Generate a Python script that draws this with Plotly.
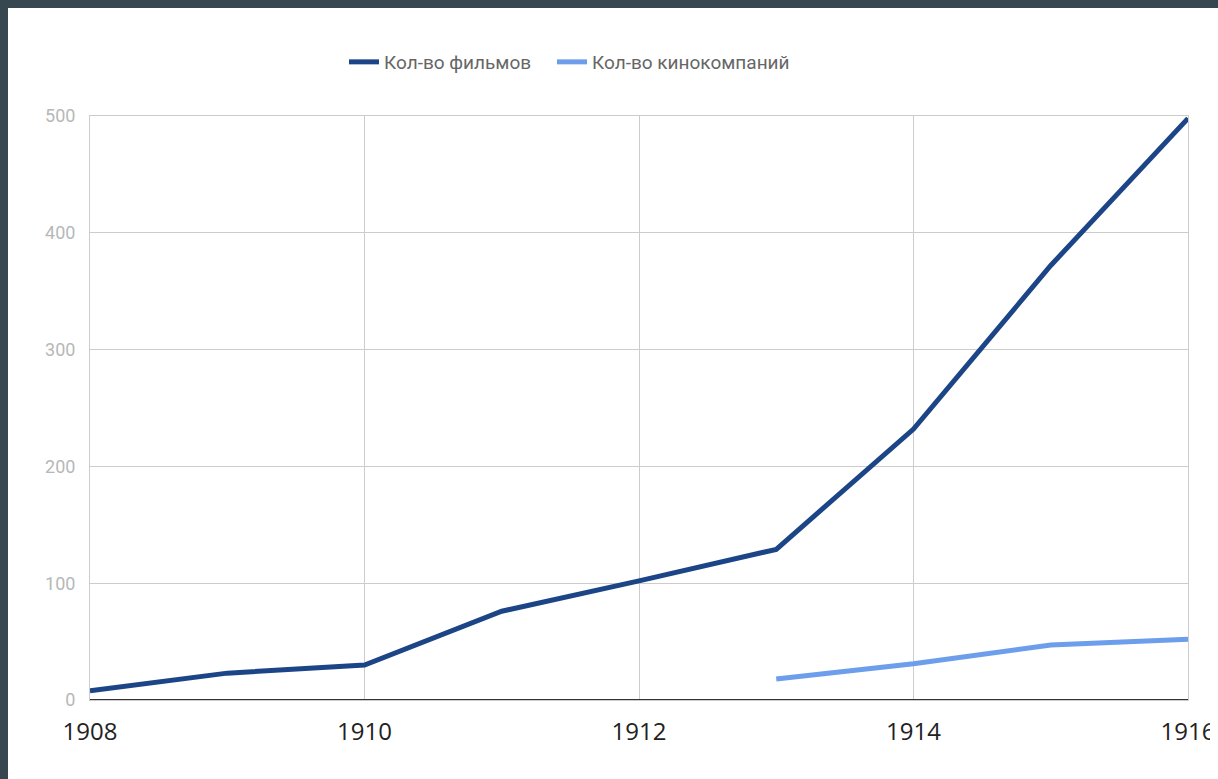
import plotly.graph_objects as go

years = [1908, 1909, 1910, 1911, 1912, 1913, 1914, 1915, 1916]
films = [8, 23, 30, 76, 102, 129, 232, 372, 498]
company_years = [1913, 1914, 1915, 1916]
companies = [18, 31, 47, 52]

# page body keeps its default 8px margin; figure sits at (8, 8)
OFF = 8
W, H = 1218 - OFF, 779 - 2 * OFF
L = 90 - OFF
T = 116 - OFF
R = W - (1188 - OFF)
B = H - (700 - OFF)
pw, ph = W - L - R, H - T - B


def px_x(p):
    return (p - OFF - L) / pw


def px_y(p):
    return (H - B - (p - OFF)) / ph


fig = go.Figure()
fig.add_trace(go.Scatter(x=years, y=films, mode="lines", name="Кол-во фильмов",
                         line=dict(color="#1c4587", width=5), legend="legend"))
fig.add_trace(go.Scatter(x=company_years, y=companies, mode="lines", name="Кол-во кинокомпаний",
                         line=dict(color="#6d9eeb", width=5), legend="legend2"))

legend_common = dict(orientation="h", xanchor="left", y=px_y(62), yanchor="middle",
                     font=dict(family="Roboto", size=19, color="#666666"), itemwidth=30)

fig.update_layout(
    width=W, height=H, autosize=False,
    margin=dict(l=L, r=R, t=T, b=B, autoexpand=False),
    paper_bgcolor="white", plot_bgcolor="white",
    font=dict(family="Roboto", color="#666666"),
    showlegend=True,
    legend=dict(x=px_x(344), **legend_common),
    legend2=dict(x=px_x(552), **legend_common),
    xaxis=dict(range=[1908, 1916], dtick=2, tick0=1908, showgrid=True, gridcolor="#cccccc",
               gridwidth=1, zeroline=False, showline=True, linecolor="#cccccc", mirror=True,
               tickfont=dict(family="Open Sans", size=24, color="#222222"),
               ticks="", ticklabelstandoff=10, automargin=False),
    yaxis=dict(range=[0, 500], dtick=100, showgrid=True, gridcolor="#cccccc", gridwidth=1,
               zeroline=False, showline=True, linecolor="#cccccc", mirror=True,
               tickfont=dict(family="Roboto", size=18, color="#b7b7b7"),
               ticks="", ticklabelstandoff=10, automargin=False),
)
# dark axis baseline at 0
fig.add_shape(type="line", xref="paper", yref="y", x0=0, x1=1, y0=0, y1=0,
              line=dict(color="#333333", width=2), layer="above")

page_bg = ("linear-gradient(#37474f,#37474f) left top/100% 8px no-repeat,"
           "linear-gradient(#37474f,#37474f) left top/8px 100% no-repeat,"
           "#ffffff")
fig.write_html("out.html",
               config={"responsive": False, "displayModeBar": False},
               post_script="document.body.style.background='" + page_bg + "';")
